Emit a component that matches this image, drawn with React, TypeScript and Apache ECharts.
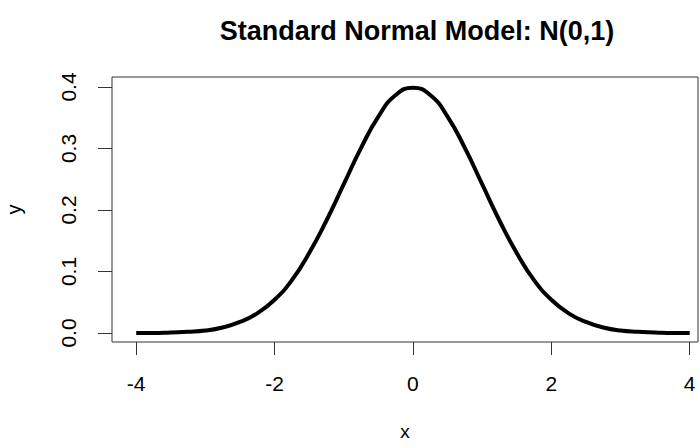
import React, { useEffect, useRef } from "react";
import * as echarts from "echarts";

const xValues = [-4, -3.75, -3.5, -3.25, -3, -2.75, -2.5, -2.25, -2, -1.75, -1.5, -1.25, -1, -0.75, -0.5, -0.25, 0,
  0.25, 0.5, 0.75, 1, 1.25, 1.5, 1.75, 2, 2.25, 2.5, 2.75, 3, 3.25, 3.5, 3.75, 4];
const yValues = [0.000, 0.000, 0.001, 0.002, 0.004, 0.009, 0.018, 0.032, 0.054, 0.086, 0.130, 0.183, 0.242, 0.301, 0.352, 0.387, 0.399,
  0.387, 0.352, 0.301, 0.242, 0.183, 0.130, 0.086, 0.054, 0.032, 0.018, 0.009, 0.004, 0.002, 0.001, 0.000, 0.000];
const xTicks = [-4, -2, 0, 2, 4];
const yTicks = [0.0, 0.1, 0.2, 0.3, 0.4];
const titleText = "Standard Normal Model: N(0,1)";

const FONT = "'Liberation Sans', Arial, sans-serif";

export default function App() {
  const ref = useRef<HTMLDivElement>(null);
  useEffect(() => {
    if (!ref.current) return;
    const chart = echarts.init(ref.current, null, { renderer: "svg" });
    chart.setOption({
      animation: false,
      backgroundColor: "#fff",
      title: {
        text: titleText,
        left: 412,
        top: 12,
        textAlign: "center",
        textStyle: { fontFamily: FONT, fontSize: 27, fontWeight: "bold", color: "#000" },
      },
      grid: {
        left: 112,
        top: 77,
        right: 2,
        bottom: 106,
        show: true,
        borderColor: "#333",
        borderWidth: 1,
        containLabel: false,
        outerBoundsMode: "none",
      },
      xAxis: {
        type: "value",
        min: -4.35,
        max: 4.12,
        position: "bottom",
        name: "x",
        nameLocation: "middle",
        nameGap: 80,
        nameTextStyle: { fontFamily: FONT, fontSize: 19, color: "#000" },
        axisLine: { show: false, onZero: false },
        splitLine: { show: false },
        axisTick: { show: true, inside: false, customValues: xTicks, length: 13, lineStyle: { color: "#333", width: 1 } },
        axisLabel: {
          customValues: xTicks,
          margin: 31,
          fontFamily: FONT,
          fontSize: 21,
          color: "#000",
          formatter: (v: number) => String(v),
        },
      },
      yAxis: {
        type: "value",
        min: -0.0146,
        max: 0.4163,
        position: "left",
        name: "y",
        nameLocation: "middle",
        nameGap: 88,
        nameRotate: 90,
        nameTextStyle: { fontFamily: FONT, fontSize: 20, color: "#000" },
        axisLine: { show: false, onZero: false },
        splitLine: { show: false },
        axisTick: { show: true, inside: false, customValues: yTicks, length: 14, lineStyle: { color: "#333", width: 1 } },
        axisLabel: {
          customValues: yTicks,
          rotate: 90,
          margin: 33,
          fontFamily: FONT,
          fontSize: 21,
          color: "#000",
          formatter: (v: number) => v.toFixed(1),
        },
      },
      series: [
        {
          type: "line",
          data: xValues.map((x, i) => [x, yValues[i]]),
          smooth: true,
          showSymbol: false,
          symbol: "none",
          lineStyle: { color: "#000", width: 4 },
        },
      ],
    });
    return () => chart.dispose();
  }, []);
  return <div ref={ref} style={{ position: "fixed", left: 0, top: 0, width: 700, height: 448 }} />;
}
